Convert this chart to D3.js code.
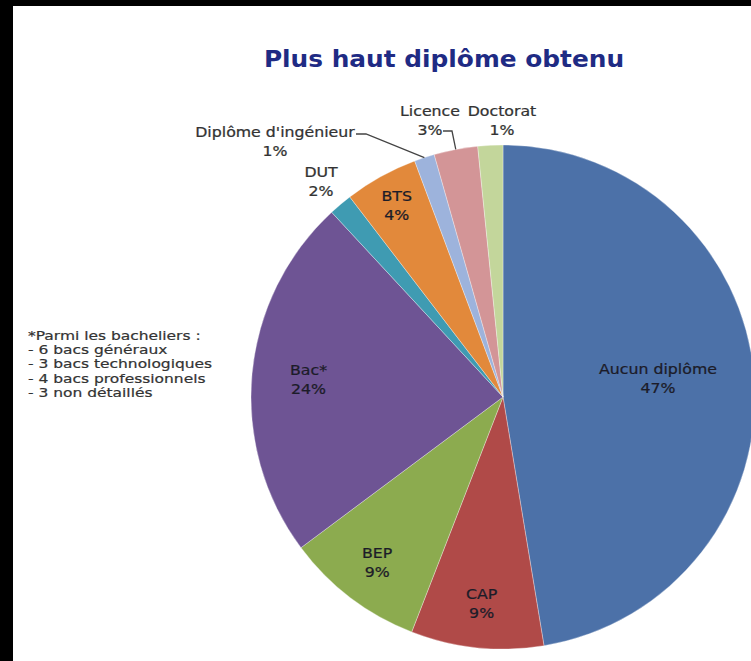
<!DOCTYPE html>
<html lang="fr">
<head>
<meta charset="UTF-8">
<title>Plus haut diplôme obtenu</title>
<script src="https://cdn.jsdelivr.net/npm/d3@7"></script>
<style>
  body { margin: 0; background: #000; }
  svg { display: block; }
  text { font-family: "DejaVu Sans", Verdana, sans-serif; }
</style>
</head>
<body>
<svg width="751" height="661"></svg>
<script>
// data (share in % of the circle)
var categories = ["Aucun diplôme", "CAP", "BEP", "Bac*", "DUT", "BTS", "Diplôme d'ingénieur", "Licence", "Doctorat"];
var shares = [47.4, 8.5, 8.9, 23.3, 1.5, 4.7, 1.3, 2.8, 1.6];
var pctLabels = ["47%", "9%", "9%", "24%", "2%", "4%", "1%", "3%", "1%"];
var colors = ["#4c71a8", "#b04a48", "#8cab4f", "#6e5494", "#3f9bb2", "#e2893b", "#9db3dc", "#d39597", "#c3d69b"];
var noteLines = ["*Parmi les bacheliers :", "- 6 bacs généraux", "- 3 bacs technologiques", "- 4 bacs professionnels", "- 3 non détaillés"];

var svg = d3.select("svg");
var W = 751, H = 661;

// frame : black band on the left and top
svg.append("rect").attr("width", W).attr("height", H).attr("fill", "#000");
svg.append("rect").attr("x", 13).attr("y", 6).attr("width", W - 13).attr("height", H - 6).attr("fill", "#fff");

var cx = 503, cy = 397, r = 252;
var sx = 1.11; // source text is wider than DejaVu

svg.append("text")
    .attr("transform", "translate(444,67) scale(1.08,1)")
    .attr("text-anchor", "middle")
    .attr("font-size", 23)
    .attr("font-weight", "bold")
    .attr("fill", "#1f2b84")
    .text("Plus haut diplôme obtenu");

var pie = d3.pie().sort(null).value(function (d) { return d; });
var arcs = pie(shares);
var arc = d3.arc().innerRadius(0).outerRadius(r);

var g = svg.append("g").attr("transform", "translate(" + cx + "," + cy + ")");

g.selectAll("path.slice")
    .data(arcs)
    .enter().append("path")
    .attr("class", "slice")
    .attr("d", arc)
    .attr("fill", function (d, i) { return colors[i]; })
    .attr("stroke", "#fff")
    .attr("stroke-opacity", 0.4)
    .attr("stroke-width", 0.8);

// label radius as fraction of r (inside + DUT), null = placed by hand
var labelR = [null, 0.82, 0.825, 0.775, 1.12, 0.87, null, null, null];
var handPos = {0: [658, 378], 6: [275, 141], 7: [430, 120], 8: [502, 120]};

function labelXY(i) {
    if (labelR[i] === null) return handPos[i];
    var a = (arcs[i].startAngle + arcs[i].endAngle) / 2;
    var rr = labelR[i] * r;
    return [cx + rr * Math.sin(a), cy - rr * Math.cos(a)];
}

arcs.forEach(function (d, i) {
    var p = labelXY(i);
    var inside = i <= 3 || i === 5;
    var col = inside ? "#1c1c28" : "#333";
    var t = svg.append("text")
        .attr("transform", "translate(" + p[0] + "," + p[1] + ") scale(" + sx + ",1)")
        .attr("text-anchor", "middle")
        .attr("font-size", 14.2)
        .attr("fill", col)
        .attr("stroke", col)
        .attr("stroke-width", 0.25);
    t.append("tspan").attr("x", 0).attr("y", -4).text(categories[i]);
    t.append("tspan").attr("x", 0).attr("y", 15).text(pctLabels[i]);
});

// leader lines for the thin slices
var leaders = {6: [[356, 134], [366, 134]], 7: [[443, 131], [452, 131]]};
Object.keys(leaders).forEach(function (k) {
    var d = arcs[k];
    var a = (d.startAngle + d.endAngle) / 2;
    var pts = leaders[k].concat([[cx + r * Math.sin(a), cy - r * Math.cos(a)]]);
    svg.append("path")
        .attr("d", d3.line()(pts))
        .attr("fill", "none")
        .attr("stroke", "#444")
        .attr("stroke-width", 1.3);
});

// footnote
var note = svg.append("text")
    .attr("transform", "translate(28,340) scale(1.29,1)")
    .attr("font-size", 12)
    .attr("fill", "#333")
    .attr("stroke", "#333")
    .attr("stroke-width", 0.2);
noteLines.forEach(function (s, i) {
    note.append("tspan").attr("x", 0).attr("y", i * 14.2).text(s);
});
</script>
</body>
</html>
